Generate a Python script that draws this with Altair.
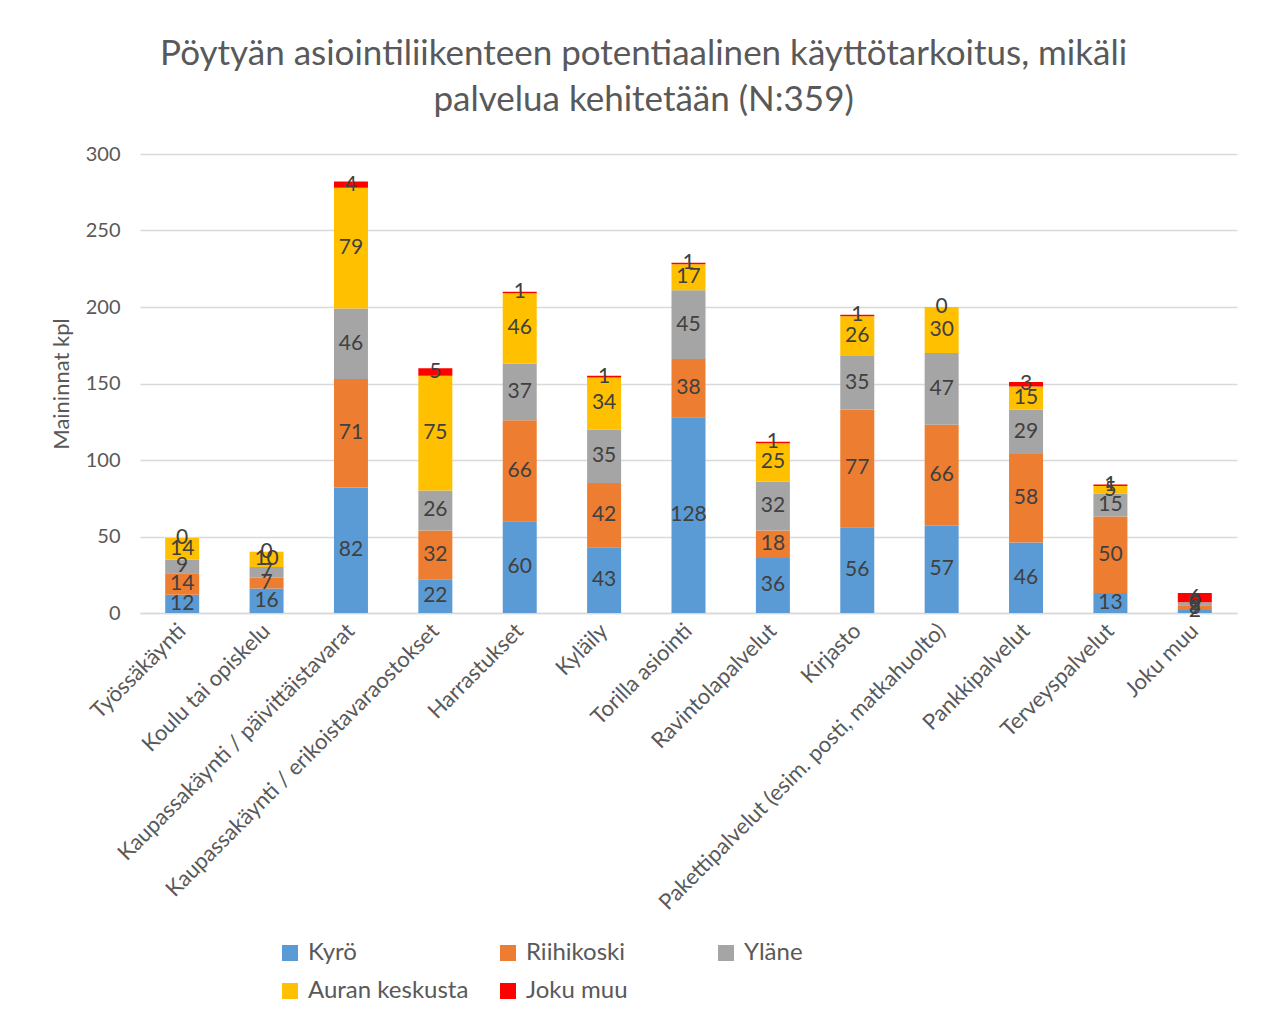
import altair as alt
import pandas as pd

categories = [
    "Työssäkäynti", "Koulu tai opiskelu", "Kaupassakäynti / päivittäistavarat",
    "Kaupassakäynti / erikoistavaraostokset", "Harrastukset", "Kyläily",
    "Torilla asiointi", "Ravintolapalvelut", "Kirjasto",
    "Pakettipalvelut (esim. posti, matkahuolto)", "Pankkipalvelut",
    "Terveyspalvelut", "Joku muu",
]
series = ["Kyrö", "Riihikoski", "Yläne", "Auran keskusta", "Joku muu"]
colors = ["#5B9BD5", "#ED7D31", "#A5A5A5", "#FFC000", "#FF0000"]

kyro = [12, 16, 82, 22, 60, 43, 128, 36, 56, 57, 46, 13, 2]
riihikoski = [14, 7, 71, 32, 66, 42, 38, 18, 77, 66, 58, 50, 3]
ylane = [9, 7, 46, 26, 37, 35, 45, 32, 35, 47, 29, 15, 2]
aura = [14, 10, 79, 75, 46, 34, 17, 25, 26, 30, 15, 5, 0]
joku = [0, 0, 4, 5, 1, 1, 1, 1, 1, 0, 3, 1, 6]

rows = []
for si, (s, vals) in enumerate(zip(series, [kyro, riihikoski, ylane, aura, joku])):
    for c, v in zip(categories, vals):
        rows.append({"cat": c, "series": s, "value": v, "order": si})
df = pd.DataFrame(rows)

FONT = "Lato"
base = alt.Chart(df).transform_stack(
    stack="value", as_=["y0", "y1"], groupby=["cat"], sort=[alt.SortField("order")]
).transform_calculate(mid="(datum.y0 + datum.y1) / 2")

x = alt.X("cat:N", sort=categories, title=None,
          axis=alt.Axis(labelAngle=-45, labelAlign="right", labelBaseline="middle",
                        labelFontSize=22, labelColor="#595959", labelFont=FONT,
                        domainColor="#D9D9D9", domainWidth=1.5, ticks=False,
                        labelPadding=14, labelLimit=600, grid=False))

bars = base.mark_bar(size=34).encode(
    x=x,
    y=alt.Y("y0:Q", title="Maininnat kpl",
            scale=alt.Scale(domain=[0, 300], nice=False),
            axis=alt.Axis(values=[0, 50, 100, 150, 200, 250, 300], labelFontSize=20,
                          labelColor="#595959", labelFont=FONT, titleFont=FONT,
                          titleFontSize=22, titleColor="#595959", titleFontWeight="normal",
                          domain=False, ticks=False, gridColor="#D9D9D9", gridWidth=1.5,
                          labelPadding=20, titlePadding=12)),
    y2="y1:Q",
    color=alt.Color("series:N", sort=series,
                    scale=alt.Scale(domain=series, range=colors),
                    legend=alt.Legend(title=None, orient="none", legendX=138, legendY=787,
                                      columns=3, gridAlign="all",
                                      symbolType="square", symbolSize=256,
                                      symbolStrokeWidth=0, labelFontSize=24,
                                      labelFont=FONT, labelColor="#595959",
                                      labelLimit=400, labelOffset=6,
                                      columnPadding=27, rowPadding=14,
                                      direction="horizontal")),
    order=alt.Order("order:Q"),
)

labels = base.mark_text(fontSize=21, color="#404040", font=FONT).encode(
    x=alt.X("cat:N", sort=categories),
    y=alt.Y("mid:Q"),
    text=alt.Text("value:Q"),
)

chart = (bars + labels).properties(
    width=1097, height=459,
    padding={"left": 42, "top": 29, "right": 24, "bottom": 10},
    background="white",
    title=alt.TitleParams(
        text=["Pöytyän asiointiliikenteen potentiaalinen käyttötarkoitus, mikäli",
              "palvelua kehitetään (N:359)"],
        fontSize=35, font=FONT, color="#595959", fontWeight="normal",
        anchor="middle", frame="bounds", lineHeight=46, offset=26),
).configure_view(stroke=None)

chart.save("out.html", embed_options={"renderer": "svg", "actions": False})
